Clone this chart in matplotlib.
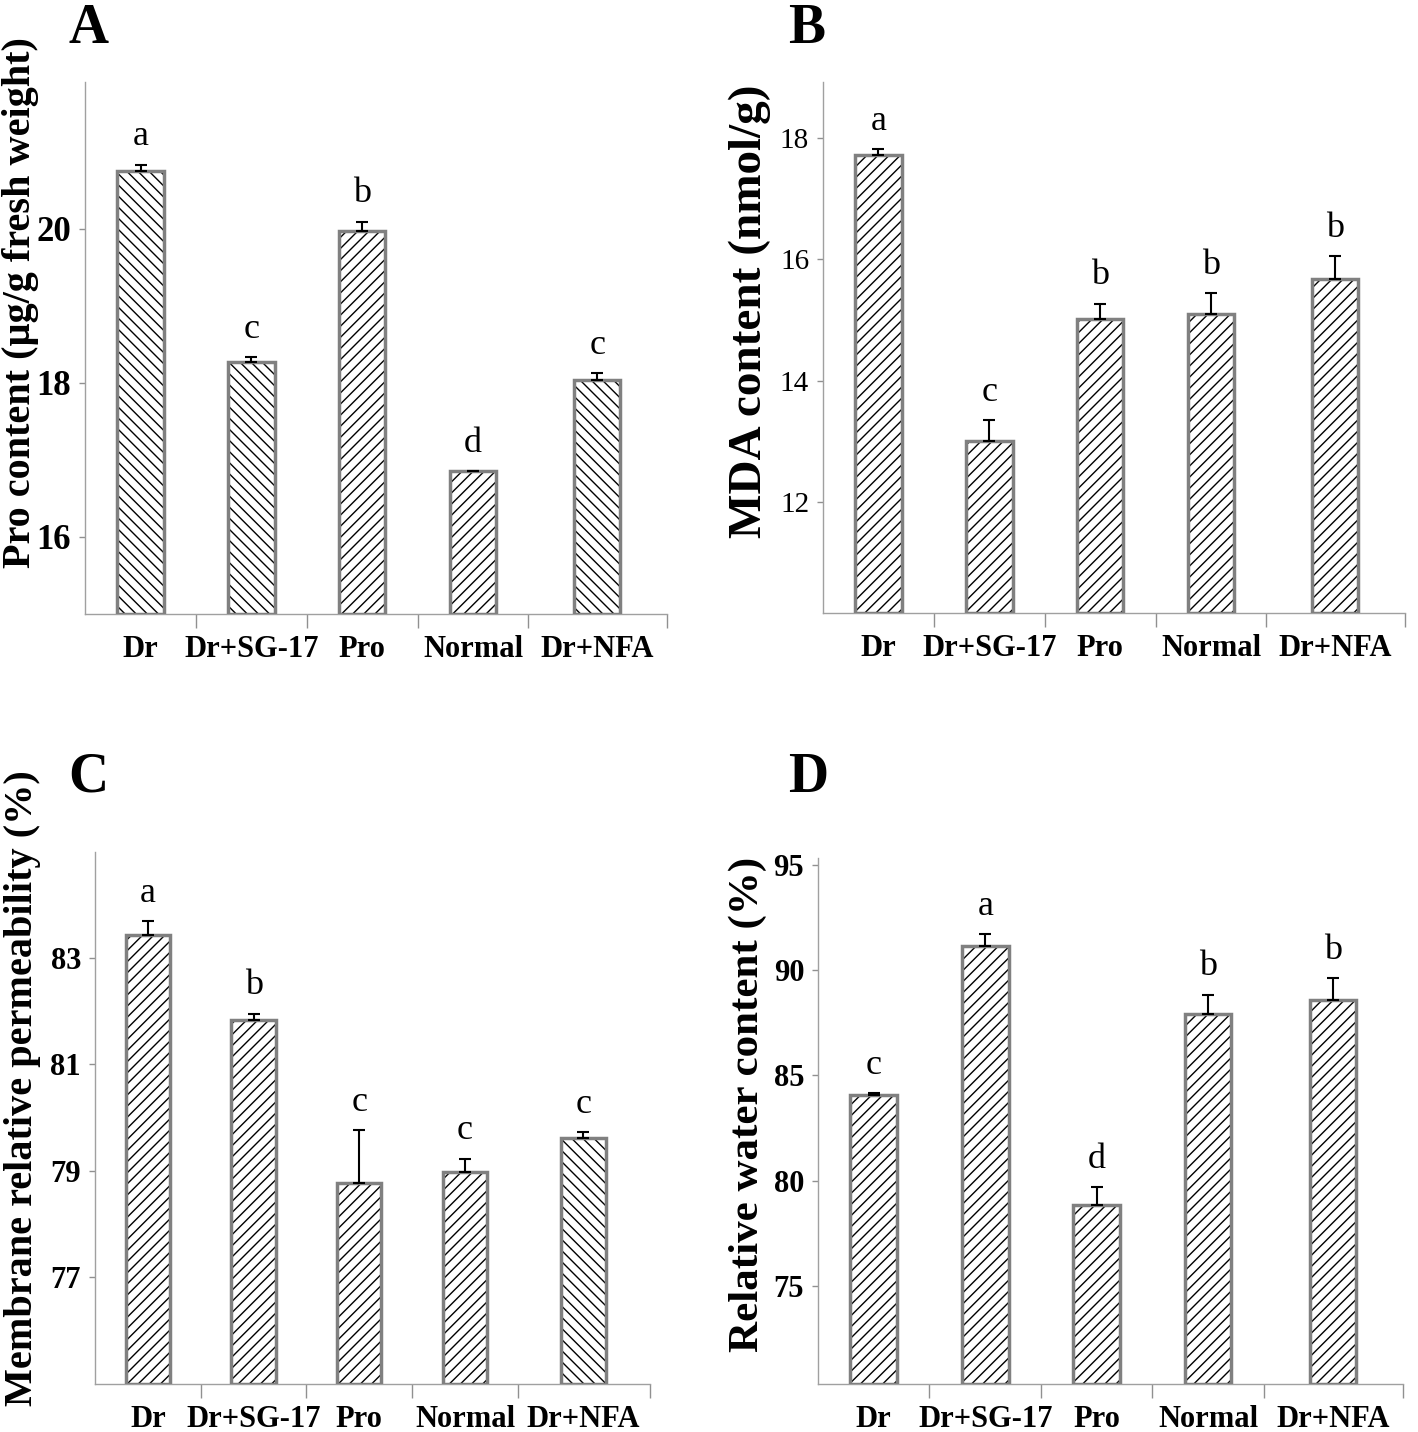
import numpy as np
import matplotlib
matplotlib.use("Agg")
import matplotlib.pyplot as plt

plt.rcParams['font.family'] = ['Liberation Serif', 'DejaVu Serif']
plt.rcParams['hatch.linewidth'] = 1.0

groups = ['Dr', 'Dr+SG-17', 'Pro', 'Normal', 'Dr+NFA']

pro_mean = [20.75, 18.27, 19.97, 16.85, 18.03]
pro_err = [0.08, 0.06, 0.12, 0.01, 0.10]
pro_sig = ['a', 'c', 'b', 'd', 'c']

mda_mean = [17.71, 13.01, 15.02, 15.10, 15.67]
mda_err = [0.10, 0.34, 0.25, 0.34, 0.38]
mda_sig = ['a', 'c', 'b', 'b', 'b']

mrp_mean = [83.42, 81.83, 78.77, 78.97, 79.61]
mrp_err = [0.27, 0.12, 1.00, 0.26, 0.12]
mrp_sig = ['a', 'b', 'c', 'c', 'c']

rwc_mean = [84.08, 91.15, 78.85, 87.93, 88.58]
rwc_err = [0.08, 0.54, 0.86, 0.90, 1.03]
rwc_sig = ['c', 'a', 'd', 'b', 'b']

pos = np.array([0, 1, 2, 3, 4.12])
bounds = [0.5, 1.5, 2.5, 3.5, 4.75]


def panel(rect, mean, err, sig, hatches, ylabel, ylsize, ylpos, ylim, yticks,
          letter, letter_xy, tick_bold, tick_size):
    ax = fig.add_axes(rect)
    for x, m, h in zip(pos, mean, hatches):
        # hatch in black, outline in gray
        ax.bar(x, m - ylim[0], bottom=ylim[0], width=0.42, color='white',
               edgecolor='black', linewidth=0, hatch=h, zorder=2)
        ax.bar(x, m - ylim[0], bottom=ylim[0], width=0.42, fill=False,
               edgecolor='#808080', linewidth=2.5, zorder=3)
    ax.errorbar(pos, mean, yerr=[np.zeros(len(err)), err], fmt='none',
                ecolor='black', elinewidth=1.5, capsize=4, capthick=1.5, zorder=4)
    for x, m, e, s in zip(pos, mean, err, sig):
        ax.annotate(s, (x, m + e), xytext=(0, 8), textcoords='offset points',
                    ha='center', va='bottom', fontsize=26)
    ax.set_xlim(-0.5, 4.75)
    ax.set_ylim(*ylim)
    ax.set_yticks(yticks)
    ax.set_yticklabels([str(t) for t in yticks],
                       fontweight='bold' if tick_bold else 'normal', fontsize=tick_size)
    ax.set_xticks(pos)
    ax.set_xticklabels(groups, fontweight='bold', fontsize=22)
    ax.set_xticks(bounds, minor=True)
    ax.tick_params(axis='x', which='major', length=0, pad=15)
    ax.tick_params(axis='x', which='minor', length=10, color='#909090', width=1)
    ax.tick_params(axis='y', length=4, color='#909090', width=1, pad=6)
    for sp in ['top', 'right']:
        ax.spines[sp].set_visible(False)
    for sp in ['left', 'bottom']:
        ax.spines[sp].set_color('#a0a0a0')
        ax.spines[sp].set_linewidth(1)
    ax.set_ylabel(ylabel, fontweight='bold', fontsize=ylsize)
    ax.yaxis.set_label_coords(*ylpos)
    fig.text(letter_xy[0], letter_xy[1], letter, fontsize=40, fontweight='bold',
             ha='left', va='top')
    return ax


fig = plt.figure(figsize=(14.18, 14.32), dpi=100)

panel([0.060, 0.5712, 0.4104, 0.3715], pro_mean, pro_err, pro_sig,
      ['\\\\\\', '\\\\\\', '///', '///', '\\\\\\'],
      'Pro content (µg/g fresh weight)', 29, (-0.080, 0.585),
      (15.0, 21.9), [16, 18, 20], 'A', (0.048, 0.998), True, 25)

panel([0.5804, 0.5719, 0.4104, 0.3708], mda_mean, mda_err, mda_sig,
      ['///'] * 5,
      'MDA content (nmol/g)', 34, (-0.09, 0.569),
      (10.17, 18.92), [12, 14, 16, 18], 'B', (0.556, 0.998), False, 21)

panel([0.067, 0.0335, 0.3914, 0.3715], mrp_mean, mrp_err, mrp_sig,
      ['///', '///', '///', '///', '\\\\\\'],
      'Membrane relative permeability (%)', 29, (-0.097, 0.556),
      (75.0, 84.98), [77, 79, 81, 83], 'C', (0.048, 0.475), True, 22)

panel([0.5769, 0.0335, 0.4126, 0.3673], rwc_mean, rwc_err, rwc_sig,
      ['///'] * 5,
      'Relative water content (%)', 31, (-0.087, 0.532),
      (70.34, 95.31), [75, 80, 85, 90, 95], 'D', (0.556, 0.475), True, 22)

fig.savefig('out.png', dpi=100)
